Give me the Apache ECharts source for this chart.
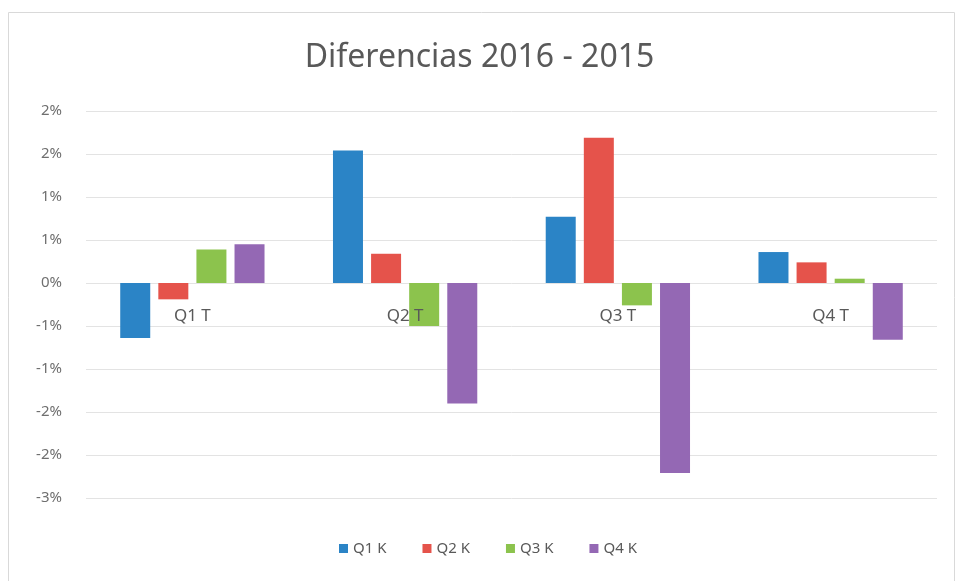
<!DOCTYPE html>
<html>
<head>
<meta charset="utf-8">
<script src="https://cdn.jsdelivr.net/npm/echarts@6/dist/echarts.min.js"></script>
<style>
  html, body { margin: 0; padding: 0; background: #ffffff; }
  #chart { width: 959px; height: 581px; }
</style>
</head>
<body>
<div id="chart"></div>
<script>
// Données (en %)
var categories = ['Q1 T', 'Q2 T', 'Q3 T', 'Q4 T'];
var seriesNames = ['Q1 K', 'Q2 K', 'Q3 K', 'Q4 K'];
var q1k = [-0.64, 1.54, 0.77, 0.36];
var q2k = [-0.19, 0.34, 1.69, 0.24];
var q3k = [0.39, -0.50, -0.26, 0.05];
var q4k = [0.45, -1.40, -2.21, -0.66];
var colors = ['#2b84c6', '#e5534b', '#8cc34d', '#9468b4'];

var chart = echarts.init(document.getElementById('chart'));

// Étiquettes arrondies comme dans Excel (0.5 -> 1)
function fmtPct(v) {
    var r = Math.round(Math.abs(v) + 1e-9);
    if (r === 0) return '0%';
    return (v < 0 ? '-' : '') + r + '%';
}

var allData = [q1k, q2k, q3k, q4k];
var series = seriesNames.map(function(name, i) {
    return {
        name: name,
        type: 'bar',
        data: allData[i],
        barWidth: 30,
        barGap: '27%',
        itemStyle: { color: colors[i] }
    };
});

var option = {
    animation: false,
    color: colors,
    graphic: [{
        type: 'rect',
        shape: { x: 8.5, y: 12.5, width: 946, height: 580 },
        style: { fill: 'none', stroke: '#d9d9d9', lineWidth: 1 }
    }],
    title: {
        text: 'Diferencias 2016 - 2015',
        left: 'center',
        top: 37,
        textStyle: {
            fontFamily: 'Noto Sans',
            fontSize: 32,
            fontWeight: 'normal',
            color: '#595959'
        }
    },
    legend: {
        data: seriesNames,
        bottom: 20,
        left: 334,
        itemWidth: 9,
        itemHeight: 9,
        itemGap: 36,
        icon: 'rect',
        textStyle: { fontFamily: 'Noto Sans', fontSize: 15, color: '#595959' }
    },
    grid: { left: 86, right: 22, top: 111, bottom: 83 },
    xAxis: {
        type: 'category',
        data: categories,
        position: 'bottom',
        offset: -215,   // étiquettes le long de la ligne du zéro
        z: 10,
        axisLine: { show: false },
        axisTick: { show: false },
        axisLabel: {
            fontFamily: 'Noto Sans',
            fontSize: 17,
            color: '#595959',
            margin: 25
        }
    },
    yAxis: {
        type: 'value',
        min: -2.5,
        max: 2,
        interval: 0.5,
        axisLine: { show: false },
        axisTick: { show: false },
        splitLine: { lineStyle: { color: '#e3e3e3' } },
        axisLabel: {
            formatter: fmtPct,
            fontFamily: 'Noto Sans',
            fontSize: 15,
            color: '#6f6f6f',
            margin: 24
        }
    },
    series: series
};

chart.setOption(option);
</script>
</body>
</html>
